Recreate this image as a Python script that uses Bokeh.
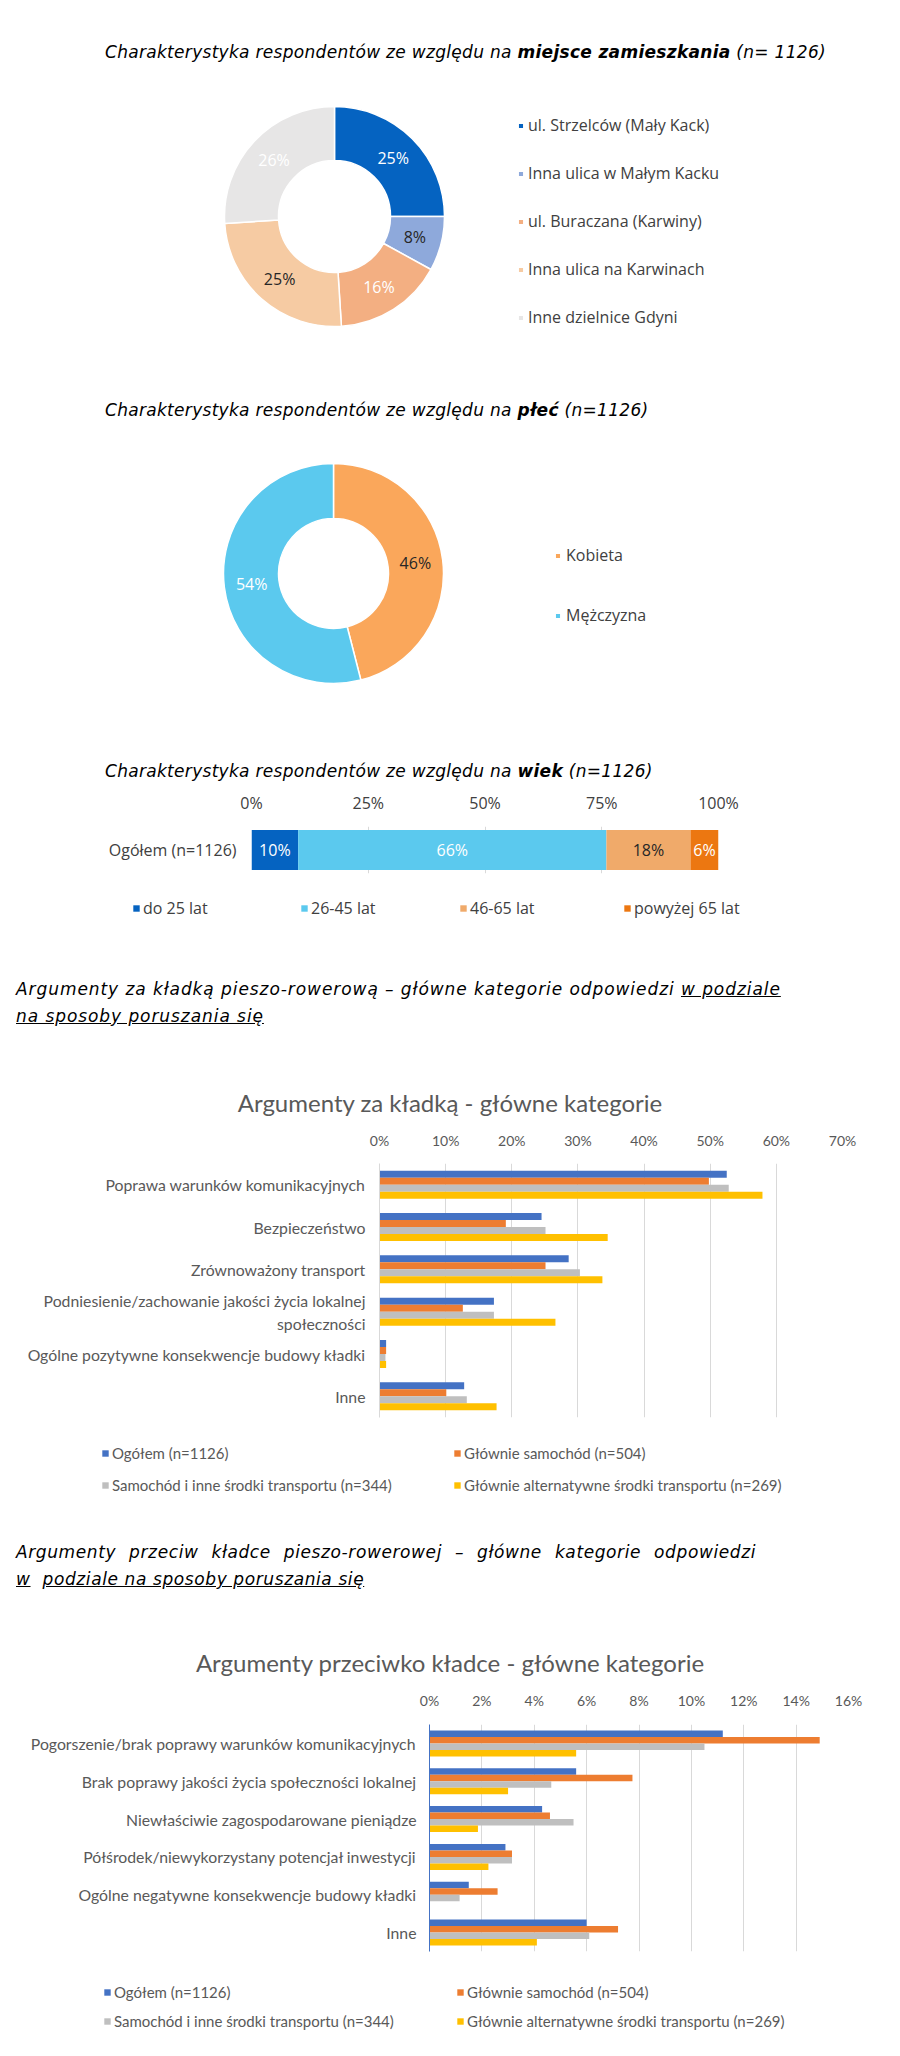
import math
import numpy as np
from bokeh.plotting import figure
from bokeh.models import (Range1d, FactorRange, Legend, LegendItem, FixedTicker,
                          PrintfTickFormatter, Div, ColumnDataSource)
from bokeh.transform import dodge
from bokeh.embed import file_html
from bokeh.resources import INLINE
from bokeh.core.properties import value

W = 900
GOTHIC = "Open Sans"
CALIBRI = "Lato"

# ---------------- data ----------------
residence_labels = ["ul. Strzelców (Mały Kack)", "Inna ulica w Małym Kacku",
                    "ul. Buraczana (Karwiny)", "Inna ulica na Karwinach",
                    "Inne dzielnice Gdyni"]
residence_values = [25, 8, 16, 25, 26]
residence_colors = ["#0563C1", "#8EA9DB", "#F3AF82", "#F6CBA3", "#E7E6E6"]
residence_text_colors = ["#FFFFFF", "#262626", "#FFFFFF", "#262626", "#FFFFFF"]

gender_labels = ["Kobieta", "Mężczyzna"]
gender_values = [46, 54]
gender_colors = ["#FAA75B", "#5BC9EE"]
gender_text_colors = ["#262626", "#FFFFFF"]

age_group = "Ogółem (n=1126)"
age_labels = ["do 25 lat", "26-45 lat", "46-65 lat", "powyżej 65 lat"]
age_values = [10, 66, 18, 6]
age_colors = ["#0563C1", "#5BC9EE", "#F0AA6A", "#EC7711"]
age_text_colors = ["#FFFFFF", "#FFFFFF", "#262626", "#FFFFFF"]
age_ticks = [0, 25, 50, 75, 100]

series_labels = ["Ogółem (n=1126)", "Głównie samochód (n=504)",
                 "Samochód i inne środki transportu (n=344)",
                 "Głównie alternatywne środki transportu (n=269)"]
series_colors = ["#4472C4", "#ED7D31", "#BFBFBF", "#FFC000"]

za_categories = ["Poprawa warunków komunikacyjnych", "Bezpieczeństwo",
                 "Zrównoważony transport",
                 "Podniesienie/zachowanie jakości życia lokalnej\nspołeczności",
                 "Ogólne pozytywne konsekwencje budowy kładki", "Inne"]
za_ogolem = [52.5, 24.5, 28.6, 17.3, 1.0, 12.8]
za_samochod = [49.8, 19.1, 25.1, 12.6, 1.0, 10.1]
za_inne = [52.8, 25.1, 30.3, 17.3, 0.9, 13.2]
za_alternatywne = [57.9, 34.5, 33.7, 26.6, 1.0, 17.7]
za_ticks = [0, 10, 20, 30, 40, 50, 60, 70]

przeciw_categories = ["Pogorszenie/brak poprawy warunków komunikacyjnych",
                      "Brak poprawy jakości życia społeczności lokalnej",
                      "Niewłaściwie zagospodarowane pieniądze",
                      "Półśrodek/niewykorzystany potencjał inwestycji",
                      "Ogólne negatywne konsekwencje budowy kładki", "Inne"]
przeciw_ogolem = [11.2, 5.6, 4.3, 2.9, 1.5, 6.0]
przeciw_samochod = [14.9, 7.75, 4.6, 3.15, 2.6, 7.2]
przeciw_inne = [10.5, 4.65, 5.5, 3.15, 1.15, 6.1]
przeciw_alternatywne = [5.6, 3.0, 1.85, 2.25, 0.0, 4.1]
przeciw_ticks = [0, 2, 4, 6, 8, 10, 12, 14, 16]


# ---------------- helpers ----------------
def text_div(inner, H):
    return Div(text=f'<div style="position:relative;width:{W}px;height:{H}px;overflow:visible;">{inner}</div>',
               width=W, height=H, margin=0)


def ital(ls):
    return ("font-family:'DejaVu Sans';font-style:italic;font-size:17px;"
            f"letter-spacing:{ls}px;color:#000;white-space:nowrap;")


def title_line(html, top, left=105, lh=24):
    return f'<div style="position:absolute;left:{left}px;top:{top}px;line-height:{lh}px;{ital(0.3)}">{html}</div>'


def chart_title(txt, top):
    return (f'<div style="position:absolute;left:0px;top:{top}px;width:{W}px;text-align:center;'
            f'line-height:30px;font-family:Lato;font-size:24px;color:#595959;white-space:nowrap;">{txt}</div>')


def blank_figure(H):
    p = figure(width=W, height=H, x_range=Range1d(0, W), y_range=Range1d(0, H),
               x_axis_location=None, y_axis_location=None, min_border=0,
               output_backend="svg", toolbar_location=None, outline_line_color=None)
    p.grid.visible = False
    return p


def donut_figure(values, colors, text_colors, labels, H, cx, cy, r_in, r_out,
                 leg_x, leg_y, leg_spacing, leg_standoff):
    total = float(sum(values))
    fr = np.cumsum([0] + list(values)) / total
    starts = math.pi / 2 - 2 * math.pi * fr[:-1]
    ends = math.pi / 2 - 2 * math.pi * fr[1:]
    mids = (starts + ends) / 2
    rm = (r_in + r_out) / 2
    src = ColumnDataSource(dict(start=starts, end=ends, color=colors,
                                lx=cx + rm * np.cos(mids), ly=cy + rm * np.sin(mids),
                                txt=[f"{v}%" for v in values], tcol=text_colors))
    p = blank_figure(H)
    r = p.annular_wedge(x=cx, y=cy, inner_radius=r_in, outer_radius=r_out,
                        start_angle="start", end_angle="end", direction="clock",
                        fill_color="color", line_color="white", line_width=1.5, source=src)
    p.text(x="lx", y="ly", text="txt", text_color="tcol", text_align="center",
           text_baseline="middle", text_font=value(GOTHIC), text_font_size="16px", source=src)
    leg = Legend(items=[LegendItem(label=l, renderers=[r], index=i) for i, l in enumerate(labels)],
                 location=(leg_x, leg_y), orientation="vertical", glyph_width=7, glyph_height=7,
                 label_height=24, spacing=leg_spacing, label_standoff=leg_standoff, padding=0, margin=0,
                 background_fill_alpha=0, border_line_alpha=0, label_text_font=GOTHIC,
                 label_text_font_size="16px", label_text_color="#404040")
    p.add_layout(leg)
    return p


def legend_figure(H, labels, colors, xs, ys, font, size, tcolor, label_h):
    # stand-alone legend strip: each entry carries a zero-size swatch renderer
    p = blank_figure(H)
    for lab, col, x, y in zip(labels, colors, xs, ys):
        r = p.hbar(y=[0], left=[0], right=[0], height=0, fill_color=col, line_color=None)
        p.add_layout(Legend(items=[LegendItem(label=lab, renderers=[r])], location=(x, y),
                            glyph_width=8, glyph_height=8, label_height=label_h, label_standoff=3,
                            padding=0, margin=0, background_fill_alpha=0, border_line_alpha=0,
                            label_text_font=font, label_text_font_size=size,
                            label_text_color=tcolor))
    return p


def style_axes(p, ticks, font, tick_size, label_size, color, tick_standoff, label_standoff, yaxis_color):
    p.xaxis.ticker = FixedTicker(ticks=ticks)
    p.xaxis.formatter = PrintfTickFormatter(format="%d%%")
    p.xaxis.axis_line_color = None
    p.xaxis.major_tick_line_color = None
    p.xaxis.minor_tick_line_color = None
    p.xaxis.major_tick_out = 0
    p.xaxis.major_tick_in = 0
    p.xaxis.major_label_text_font = font
    p.xaxis.major_label_text_font_size = tick_size
    p.xaxis.major_label_text_color = color
    p.xaxis.major_label_standoff = tick_standoff
    p.yaxis.axis_line_color = yaxis_color
    p.yaxis.major_tick_line_color = None
    p.yaxis.minor_tick_line_color = None
    p.yaxis.major_tick_out = 0
    p.yaxis.major_tick_in = 0
    p.yaxis.major_label_text_font = font
    p.yaxis.major_label_text_font_size = label_size
    p.yaxis.major_label_text_color = color
    p.yaxis.major_label_standoff = label_standoff
    p.xgrid.ticker = FixedTicker(ticks=ticks)
    p.xgrid.grid_line_color = "#D9D9D9"
    p.ygrid.visible = False


def grouped_chart(cats, series, ticks, H, left, right, top, bottom, bar_h, offsets,
                  yaxis_color, label_standoff, tick_standoff):
    data = dict(cat=cats)
    for j, s in enumerate(series):
        data[f"s{j}"] = s
    src = ColumnDataSource(data)
    p = figure(width=W, height=H, y_range=FactorRange(factors=list(reversed(cats))),
               x_range=Range1d(ticks[0], ticks[-1]), x_axis_location="above",
               output_backend="svg", toolbar_location=None, outline_line_color=None,
               min_border_left=left, min_border_right=right, min_border_top=top,
               min_border_bottom=bottom)
    for j in range(len(series)):
        p.hbar(y=dodge("cat", offsets[j], range=p.y_range), left=0, right=f"s{j}",
               height=bar_h, fill_color=series_colors[j], line_color=None, source=src)
    style_axes(p, ticks, CALIBRI, "14px", "15.8px", "#595959", tick_standoff, label_standoff, yaxis_color)
    return p


# ---------------- section 1: residence ----------------
div1 = text_div(title_line("Charakterystyka respondentów ze względu na <b>miejsce zamieszkania</b> (n= 1126)", 40), 80)
fig1 = donut_figure(residence_values, residence_colors, residence_text_colors, residence_labels,
                    H=280, cx=334, cy=144, r_in=56, r_out=110,
                    leg_x=517, leg_y=31, leg_spacing=24, leg_standoff=4)

# ---------------- section 2: gender ----------------
div2 = text_div(title_line("Charakterystyka respondentów ze względu na <b>płeć</b> (n=1126)", 38), 70)
fig2 = donut_figure(gender_values, gender_colors, gender_text_colors, gender_labels,
                    H=290, cx=333, cy=147, r_in=55, r_out=110,
                    leg_x=554, leg_y=93, leg_spacing=36, leg_standoff=5)

# ---------------- section 3: age ----------------
div3 = text_div(title_line("Charakterystyka respondentów ze względu na <b>wiek</b> (n=1126)", 39), 68)
cum = np.cumsum([0] + age_values)
age_src = ColumnDataSource(dict(y=[age_group] * len(age_values), left=cum[:-1], right=cum[1:],
                                color=age_colors, mid=(cum[:-1] + cum[1:]) / 2,
                                txt=[f"{v}%" for v in age_values], tcol=age_text_colors))
fig3 = figure(width=W, height=92, y_range=FactorRange(factors=[age_group]),
              x_range=Range1d(age_ticks[0], age_ticks[-1]), x_axis_location="above",
              output_backend="svg", toolbar_location=None, outline_line_color=None,
              min_border_left=251, min_border_right=182, min_border_top=37, min_border_bottom=7)
fig3.hbar(y="y", left="left", right="right", height=0.85, fill_color="color",
          line_color=None, source=age_src)
fig3.text(x="mid", y="y", text="txt", text_color="tcol", text_align="center", text_baseline="middle",
          text_font=value(GOTHIC), text_font_size="16px", source=age_src)
style_axes(fig3, age_ticks, GOTHIC, "16px", "16px", "#404040", 13, 15, None)
leg3 = legend_figure(60, age_labels, age_colors, [132, 300, 459, 623], [21, 21, 21, 21],
                     GOTHIC, "16px", "#404040", 22)

# ---------------- section 4: arguments for ----------------
U = "text-decoration:underline;"
div4 = text_div(
    f'<div style="position:absolute;left:16px;top:36px;line-height:27px;{ital(0.93)}">'
    f'Argumenty za kładką pieszo-rowerową – główne kategorie odpowiedzi <span style="{U}">w podziale</span><br>'
    f'<span style="{U}">na sposoby poruszania się</span></div>'
    + chart_title("Argumenty za kładką - główne kategorie", 148), 185)
fig4 = grouped_chart(za_categories, [za_ogolem, za_samochod, za_inne, za_alternatywne], za_ticks,
                     H=300, left=379, right=58, top=38, bottom=8, bar_h=0.165,
                     offsets=[0.2475, 0.0825, -0.0825, -0.2475], yaxis_color="#D9D9D9",
                     label_standoff=14, tick_standoff=15)
leg4 = legend_figure(75, series_labels, series_colors, [101, 453, 101, 453], [37, 37, 5, 5],
                     CALIBRI, "15px", "#595959", 20)

# ---------------- section 5: arguments against ----------------
div5 = text_div(
    f'<div style="position:absolute;left:16px;top:39px;line-height:27px;{ital(0.6)}">'
    f'<div style="width:740px;text-align:justify;text-align-last:justify;">Argumenty przeciw kładce pieszo-rowerowej – główne kategorie odpowiedzi</div>'
    f'<span style="{U}">w</span>&nbsp; <span style="{U}">podziale na sposoby poruszania się</span></div>'
    + chart_title("Argumenty przeciwko kładce - główne kategorie", 148), 185)
fig5 = grouped_chart(przeciw_categories, [przeciw_ogolem, przeciw_samochod, przeciw_inne, przeciw_alternatywne],
                     przeciw_ticks, H=275, left=429, right=52, top=39, bottom=9, bar_h=0.172,
                     offsets=[0.258, 0.086, -0.086, -0.258], yaxis_color="#4472C4",
                     label_standoff=13, tick_standoff=16)
leg5 = legend_figure(88, series_labels, series_colors, [103, 456, 103, 456], [46, 46, 17, 17],
                     CALIBRI, "15px", "#595959", 20)

roots = [div1, fig1, div2, fig2, div3, fig3, leg3, div4, fig4, leg4, div5, fig5, leg5]
for f in roots:
    f.margin = 0

open("out.html", "w").write(file_html(roots, INLINE))
